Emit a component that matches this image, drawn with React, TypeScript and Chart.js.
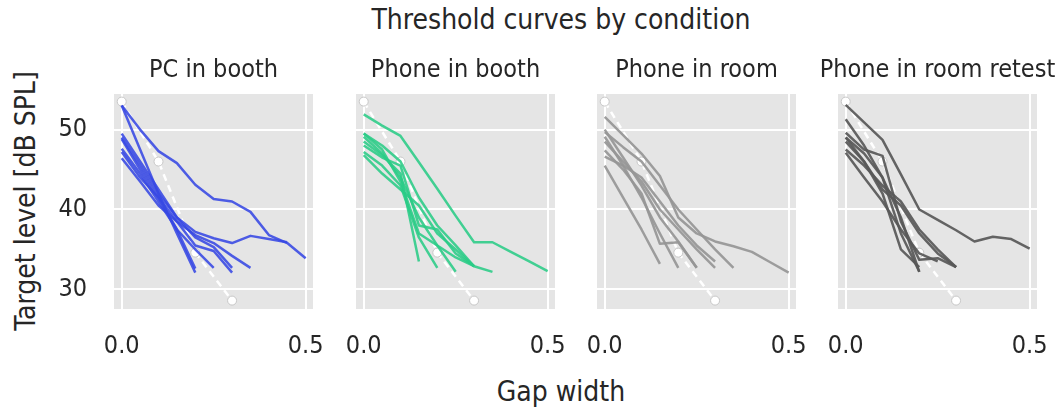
import React, { useEffect, useRef } from "react";
import { Chart, registerables } from "chart.js";

Chart.register(...registerables);

// ---------- data ----------
const TITLE = "Threshold curves by condition";
const X_LABEL = "Gap width";
const Y_LABEL = "Target level [dB SPL]";
const CONDITIONS = ["PC in booth", "Phone in booth", "Phone in room", "Phone in room retest"];
const COLORS = ["rgba(55,72,228,0.88)", "rgba(42,204,134,0.88)", "rgba(150,150,150,0.92)", "rgba(88,88,88,0.92)"];

const X_STEPS = [0, 0.05, 0.1, 0.15, 0.2, 0.25, 0.3, 0.35, 0.4, 0.45, 0.5];
const X_TICKS = [0, 0.5];
const Y_TICKS = [30, 40, 50];

const REF_X = [0, 0.1, 0.2, 0.3];
const REF_Y = [53.5, 46.0, 34.6, 28.6];

const PC_BOOTH = [
  [53.0, 50.0, 47.3, 45.8, 43.1, 41.3, 41.0, 39.7, 36.8, 35.8, 33.9],
  [49.5, 46.0, 42.5, 39.0, 37.2, 36.4, 35.8, 36.7, 36.3, 35.9],
  [53.0, 47.5, 42.0, 37.0, 32.1],
  [48.8, 45.0, 41.5, 37.5, 32.6],
  [47.6, 44.5, 41.0, 37.5, 35.0, 32.7],
  [47.2, 44.0, 41.5, 38.5, 35.5, 34.8, 32.1],
  [49.0, 45.5, 42.0, 39.0, 36.5, 35.3, 32.7],
  [46.4, 43.5, 40.5, 38.5, 36.8, 35.8, 34.2, 32.7],
];

const PHONE_BOOTH = [
  [51.9, 50.5, 49.2, 45.9, 42.6, 39.2, 35.9, 35.9, 34.7, 33.5, 32.3],
  [49.5, 48.0, 46.0, 41.5, 38.0, 35.5, 32.9, 32.2],
  [48.5, 46.8, 44.5, 33.5],
  [47.2, 45.5, 43.0, 36.5, 32.7],
  [49.1, 47.0, 44.0, 39.0, 35.5, 32.2],
  [46.8, 44.5, 42.5, 40.5, 37.0, 35.0, 32.9],
  [48.0, 46.5, 45.5, 38.0, 37.5, 34.5, 32.9],
  [49.5, 47.5, 43.5, 37.0, 35.5, 34.0, 32.9],
];

const PHONE_ROOM = [
  [51.6, 49.3, 47.0, 44.2, 39.0, 37.0, 36.0, 35.4, 34.7, 33.4, 32.1],
  [49.7, 47.8, 46.0, 43.0, 40.0, 37.5, 35.0, 32.7],
  [45.5, 41.5, 37.5, 33.2],
  [49.1, 45.5, 41.5, 37.0, 32.7],
  [47.4, 45.0, 42.0, 35.7, 35.9, 32.7],
  [48.5, 46.0, 43.5, 40.0, 37.5, 35.0, 32.7],
  [46.6, 45.5, 44.0, 41.0, 38.0, 35.5, 33.5],
  [50.0, 46.5, 43.0, 39.0, 36.0, 32.7],
];

const PHONE_ROOM_RETEST = [
  [53.1, 50.9, 48.7, 44.4, 40.0, 38.7, 37.4, 36.0, 36.6, 36.3, 35.1],
  [51.3, 48.0, 44.0, 37.0, 32.2],
  [49.0, 46.0, 42.0, 35.0, 32.8],
  [49.6, 47.5, 46.7, 38.5, 33.7, 33.9, 32.8],
  [48.5, 46.0, 42.5, 40.5, 37.0, 34.5, 32.8],
  [47.5, 45.5, 43.0, 41.0, 37.5, 35.0, 32.8],
  [47.1, 44.0, 41.0, 37.5, 34.5, 33.5],
  [49.0, 47.0, 44.0, 39.0, 32.2],
];

const PANEL_SERIES = [PC_BOOTH, PHONE_BOOTH, PHONE_ROOM, PHONE_ROOM_RETEST];

// ---------- layout ----------
const FONT = "'DejaVu Sans Condensed', 'DejaVu Sans', sans-serif";
const TEXT_COLOR = "#262626";
const GRAY_LEFT = [114, 356, 597, 838];
const GRAY_W = 199;
const GRAY_TOP = 94;
const GRAY_H = 215;
const PAD_L = 50;
const PAD_R = 50;
const PAD_T = 50;
const X_AXIS_H = 60;
const Y_AXIS_W = 64;

const bgPlugin = {
  id: "panelBg",
  beforeDraw(chart: any) {
    const { ctx, chartArea } = chart;
    ctx.save();
    ctx.fillStyle = "#e5e5e5";
    ctx.fillRect(chartArea.left, chartArea.top, chartArea.right - chartArea.left, chartArea.bottom - chartArea.top);
    ctx.restore();
  },
};

function Panel({ idx }: { idx: number }) {
  const ref = useRef<HTMLCanvasElement | null>(null);
  const first = idx === 0;
  const leftPad = first ? Y_AXIS_W : PAD_L;
  const width = leftPad + GRAY_W + PAD_R;
  const height = PAD_T + GRAY_H + X_AXIS_H;
  const left = GRAY_LEFT[idx] - leftPad;
  const top = GRAY_TOP - PAD_T;

  useEffect(() => {
    const datasets: any[] = PANEL_SERIES[idx].map((ys) => ({
      data: ys.map((y, i) => ({ x: X_STEPS[i], y })),
      borderColor: COLORS[idx],
      borderWidth: 2.5,
      pointRadius: 0,
      tension: 0,
      fill: false,
      borderJoinStyle: "round",
    }));
    datasets.push({
      data: REF_X.map((x, i) => ({ x, y: REF_Y[i] })),
      borderColor: "#ffffff",
      borderWidth: 2.5,
      borderDash: [7, 5],
      pointRadius: 4.5,
      pointBackgroundColor: "#ffffff",
      pointBorderColor: "#c8c8c8",
      pointBorderWidth: 1,
      tension: 0,
      fill: false,
      clip: false,
    });
    const chart = new Chart(ref.current as HTMLCanvasElement, {
      type: "line",
      data: { datasets },
      plugins: [bgPlugin],
      options: {
        animation: false,
        responsive: false,
        devicePixelRatio: 1,
        layout: { padding: { left: first ? 0 : PAD_L, right: PAD_R, top: PAD_T, bottom: 0 } },
        plugins: { legend: { display: false }, tooltip: { enabled: false }, title: { display: false } },
        scales: {
          x: {
            type: "linear",
            min: -0.021,
            max: 0.52,
            afterBuildTicks: (s: any) => {
              s.ticks = X_TICKS.map((v) => ({ value: v }));
            },
            afterFit: (s: any) => {
              s.height = X_AXIS_H;
            },
            grid: { color: "#ffffff", lineWidth: 2, drawTicks: false },
            border: { display: false },
            ticks: {
              padding: 22,
              color: TEXT_COLOR,
              font: { family: FONT, size: 25 },
              callback: (v: any) => Number(v).toFixed(1),
              maxRotation: 0,
              autoSkip: false,
            },
          },
          y: {
            type: "linear",
            min: 27.55,
            max: 54.45,
            afterBuildTicks: (s: any) => {
              s.ticks = Y_TICKS.map((v) => ({ value: v }));
            },
            afterFit: (s: any) => {
              s.width = first ? Y_AXIS_W : 0;
            },
            grid: { color: "#ffffff", lineWidth: 2, drawTicks: false },
            border: { display: false },
            ticks: {
              display: first,
              padding: 27,
              color: TEXT_COLOR,
              font: { family: FONT, size: 25 },
              callback: (v: any) => String(v),
            },
          },
        },
      },
    } as any);
    return () => chart.destroy();
  }, [idx]);

  return (
    <canvas
      ref={ref}
      width={width}
      height={height}
      style={{ position: "absolute", left, top, width, height }}
    />
  );
}

const textBase: React.CSSProperties = {
  position: "absolute",
  fontFamily: FONT,
  color: TEXT_COLOR,
  lineHeight: 1,
  whiteSpace: "nowrap",
  transform: "translate(-50%, -50%)",
};

export default function App() {
  return (
    <div style={{ position: "absolute", left: 0, top: 0, width: 1064, height: 412, background: "#ffffff", overflow: "hidden" }}>
      {CONDITIONS.map((_, i) => (
        <Panel key={i} idx={i} />
      ))}
      <div style={{ ...textBase, left: 561, top: 20, fontSize: 28 }}>{TITLE}</div>
      {CONDITIONS.map((c, i) => (
        <div key={c} style={{ ...textBase, left: GRAY_LEFT[i] + GRAY_W / 2, top: 68, fontSize: 25 }}>{c}</div>
      ))}
      <div style={{ ...textBase, left: 561, top: 392, fontSize: 28 }}>{X_LABEL}</div>
      <div style={{ ...textBase, left: 26, top: 201, fontSize: 28, transform: "translate(-50%, -50%) rotate(-90deg)" }}>{Y_LABEL}</div>
    </div>
  );
}
